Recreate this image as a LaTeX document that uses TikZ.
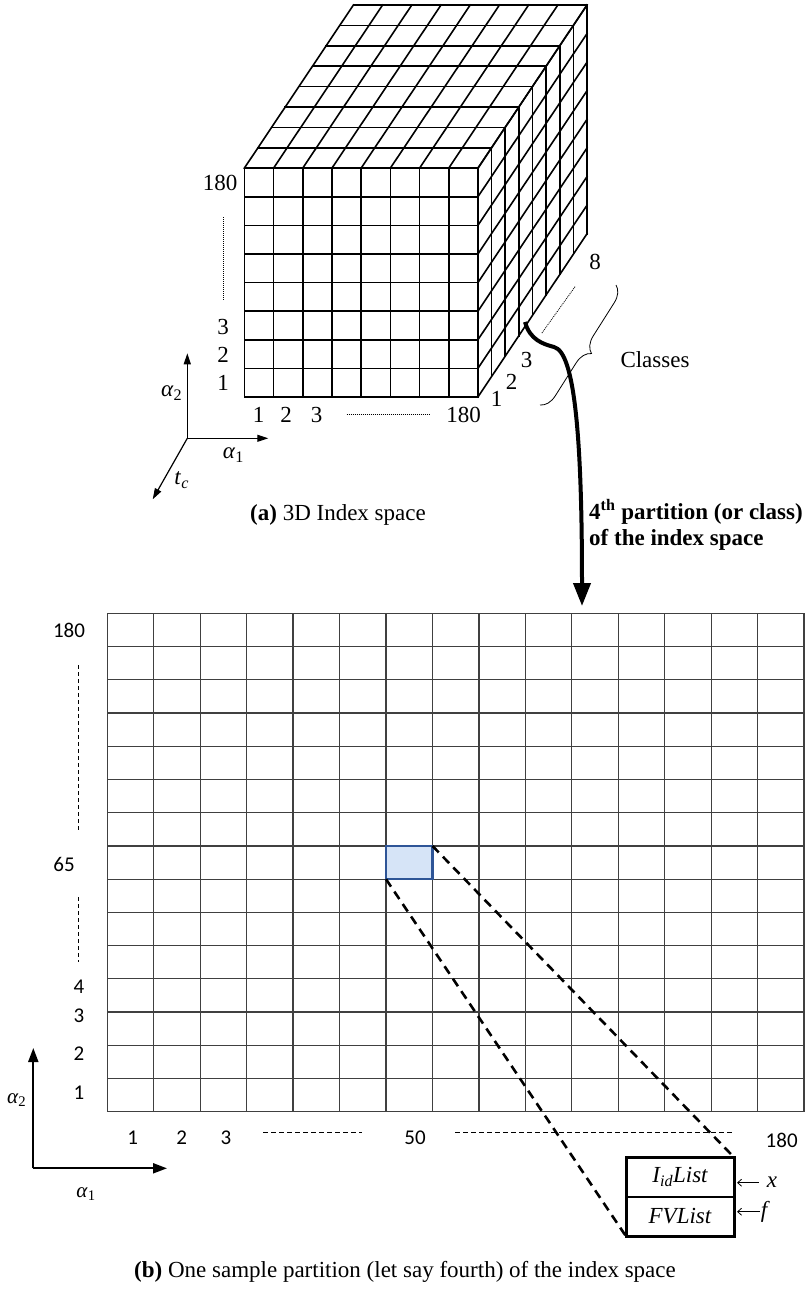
\documentclass[tikz,border=0pt]{standalone}
\usepackage{fontspec}
\setmainfont{Liberation Serif}
\newfontfamily\gridfont{Carlito}
\usetikzlibrary{arrows.meta, positioning, decorations.pathreplacing, calc}
\definecolor{cellfill}{HTML}{D6E4F7}
\definecolor{cellline}{HTML}{2E5597}

\begin{document}
\begin{tikzpicture}[x=1pt, y=-1pt, >=Stealth,
    lbl/.style={font=\fontsize{23}{26}\selectfont, inner sep=0pt},
    glbl/.style={font=\gridfont\fontsize{21}{24}\selectfont, inner sep=0pt},
    cubeline/.style={line width=1.6pt, line cap=rect},
    gridline/.style={line width=1.3pt, black!75},
    dots/.style={line width=0.8pt, dash pattern=on 1pt off 1pt},
    gdash/.style={line width=1.4pt, dash pattern=on 4pt off 3pt},
    proj/.style={line width=2.6pt, dash pattern=on 9pt off 6pt},
    listbox/.style={draw, line width=1.5pt, minimum width=108pt, minimum height=39.5pt,
                    inner sep=0pt, outer sep=0pt, font=\fontsize{23}{26}\selectfont\itshape}]

  \useasboundingbox (0,0) rectangle (811,1294);

  % (a) the cube: front, top and right faces
  \foreach \i in {0,...,8} {
    \draw[cubeline] (244.3+\i*29.2, 168.2) -- (244.3+\i*29.2, 397);
    \draw[cubeline] (244.3, 397-\i*28.6) -- (477.9, 397-\i*28.6);
    \draw[cubeline] (244.3+\i*13.64, 168.2-\i*20.4) -- (477.9+\i*13.64, 168.2-\i*20.4);
    \draw[cubeline] (244.3+\i*29.2, 168.2) -- ++(109.1, -163.2);
    \draw[cubeline] (477.9+\i*13.64, 168.2-\i*20.4) -- (477.9+\i*13.64, 397-\i*20.4);
    \draw[cubeline] (477.9, 397-\i*28.6) -- ++(109.1, -163.2);
  }

  \node[lbl] (r180) at (220,183) {180};
  \draw[dots] (223,217) -- (223,300);
  \node[lbl] (r3) at (223,327) {3};
  \node[lbl] (r2) at (223,355) {2};
  \node[lbl] (r1) at (223,383) {1};
  \node[lbl] (c1) at (258.5,415) {1};
  \node[lbl] (c2) at (286,415) {2};
  \node[lbl] (c3) at (316.5,415) {3};
  \draw[dots] (346.7,414.5) -- (430,414.5);
  \node[lbl] (c180) at (463.5,415) {180};
  \node[lbl] (d1) at (496.7,399) {1};
  \node[lbl] (d2) at (511.7,381.7) {2};
  \node[lbl] (d3) at (526.7,360) {3};
  \node[lbl] (d8) at (595,261.7) {8};
  \draw[dots] (575,286.7) -- (541.7,333.3);

  \draw[decorate, decoration={brace, amplitude=16pt}, line width=0.8pt] (616,285) -- (540,405);
  \node[lbl] (classes) at (655,360) {Classes};

  % axes of the index space
  \coordinate (ao) at (187.3,438.3);
  \coordinate (aup) at (187.3,353.3);
  \coordinate (aright) at (268.3,438.3);
  \coordinate (adown) at (152.7,499.3);
  \draw[line width=1.2pt, -{Triangle[length=11pt,width=7pt]}] (ao) -- (aup);
  \draw[line width=1.2pt, -{Triangle[length=11pt,width=7pt]}] (ao) -- (aright);
  \draw[line width=1.2pt, -{Triangle[length=11pt,width=7pt]}] (ao) -- (adown);
  \node[lbl] (aal2) at (171.7,393.3) {\textit{α}\textsubscript{2}};
  \node[lbl] (aal1) at (233.3,455) {\textit{α}\textsubscript{1}};
  \node[lbl] (atc) at (181.7,480) {\textit{t}\textsubscript{\textit{c}}};

  \node[lbl] (capa) at (338,515) {\textbf{(a)} 3D Index space};

  % the 4th class taken out
  \coordinate (tail) at (525,322);
  \coordinate (head) at (582,606);
  \draw[line width=4pt, -{Triangle[length=23pt,width=17pt]}]
    (tail) .. controls (530,340) and (543,344) .. (554,347)
           .. controls (575,352) and (582,440) .. (head);
  \node[lbl, font=\fontsize{23}{26}\selectfont\bfseries, anchor=west, align=left] (plabel)
    at (589,525) {4\textsuperscript{th} partition (or class)\\of the index space};

  % (b) one partition
  \foreach \i in {0,...,15} {
    \draw[gridline] (107.3+\i*46.45, 613.3) -- (107.3+\i*46.45, 1111.7);
    \draw[gridline] (107.3, 613.3+\i*33.23) -- (804, 613.3+\i*33.23);
  }
  \node[draw=cellline, fill=cellfill, line width=2.5pt, inner sep=0pt, outer sep=0pt,
        minimum width=46.45pt, minimum height=33.23pt] (cell) at (409.2,862.5) {};

  \node[glbl] (g180) at (69,630) {180};
  \draw[gdash] (78.3,665) -- (78.3,830);
  \node[glbl] (g65) at (64,864) {65};
  \draw[gdash] (78.3,897) -- (78.3,962);
  \node[glbl] (g4) at (79,987) {4};
  \node[glbl] (g3) at (79,1016) {3};
  \node[glbl] (g2) at (79,1054) {2};
  \node[glbl] (g1) at (79,1093) {1};
  \node[glbl] (h1) at (132.7,1138) {1};
  \node[glbl] (h2) at (181.7,1138) {2};
  \node[glbl] (h3) at (226,1138) {3};
  \draw[line width=1pt, dash pattern=on 5pt off 3pt] (263,1132) -- (362,1132);
  \node[glbl] (h50) at (415,1138) {50};
  \draw[line width=1pt, dash pattern=on 5pt off 3pt] (455,1132) -- (733,1132);
  \node[glbl] (h180) at (781.7,1140) {180};

  \coordinate (bo) at (33.3,1168.3);
  \coordinate (bup) at (33.3,1048);
  \coordinate (bright) at (167,1168.3);
  \draw[line width=2pt, -{Triangle[length=14pt,width=10pt]}] (bo) -- (bup);
  \draw[line width=2pt, -{Triangle[length=14pt,width=10pt]}] (bo) -- (bright);
  \node[glbl, font=\fontsize{21}{24}\selectfont] (bal2) at (16.7,1100) {\textit{α}\textsubscript{2}};
  \node[glbl, font=\fontsize{21}{24}\selectfont] (bal1) at (86,1194) {\textit{α}\textsubscript{1}};

  % lists kept for the cell
  \node[listbox] (idl) at (680,1177) {I\textsubscript{id}List};
  \node[listbox, below=0pt of idl] (fvl) {FVList};
  \draw[line width=3pt] (idl.north west) rectangle (fvl.south east);
  \draw[proj] (cell.north east) -- (idl.north east);
  \draw[proj] (cell.south west) -- (fvl.south west);

  \node[lbl, font=\fontsize{23}{26}\selectfont\itshape] (xin) at (772,1182.7) {x};
  \node[lbl, font=\fontsize{23}{26}\selectfont\itshape] (fin) at (764,1211.7) {f};
  \draw[line width=0.8pt, -{Straight Barb[length=4pt,width=7pt]}, shorten <=8pt, shorten >=3pt]
    (xin.west) -- (xin.west -| idl.east);
  \draw[line width=0.8pt, -{Straight Barb[length=4pt,width=7pt]}, shorten <=1pt, shorten >=3pt]
    (fin.west) -- (fin.west -| fvl.east);

  \node[lbl] (capb) at (405,1272) {\textbf{(b)} One sample partition (let say fourth) of the index space};
\end{tikzpicture}
\end{document}
